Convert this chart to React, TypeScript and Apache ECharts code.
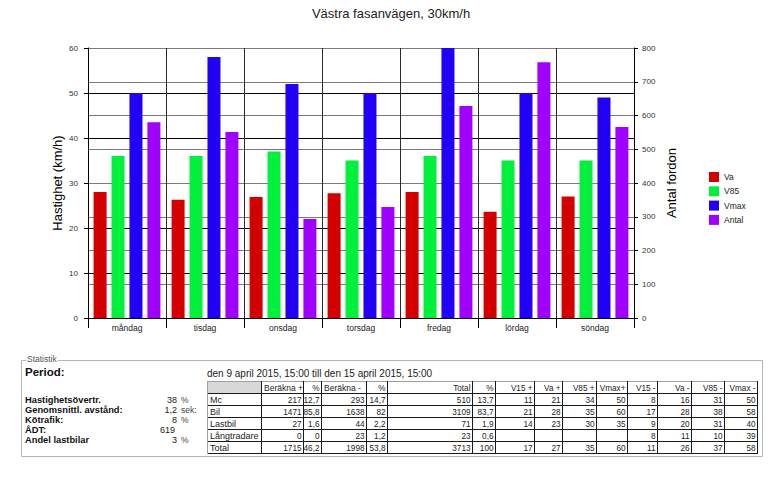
import React, { useEffect, useRef } from "react";
import * as echarts from "echarts";

// ---------- data ----------
const days = ["måndag", "tisdag", "onsdag", "torsdag", "fredag", "lördag", "söndag"];
const va = [28, 26.3, 26.9, 27.7, 28, 23.6, 27];
const v85 = [36, 36, 37, 35, 36, 35, 35];
const vmax = [50, 58, 52, 50, 60, 50, 49];
const antal = [580, 551, 293, 329, 628, 758, 566];

const seriesNames = ["Va", "V85", "Vmax", "Antal"];
const titleText = "Västra fasanvägen, 30km/h";
const leftAxisName = "Hastighet (km/h)";
const rightAxisName = "Antal fordon";

const statLabels = ["Hastighetsövertr.", "Genomsnittl. avstånd:", "Kötrafik:", "ÅDT:", "Andel lastbilar"];
const statValues = ["38", "1,2", "8", "619", "3"];
const statUnits = ["%", "sek:", "%", "", "%"];
const periodText = "den 9 april 2015, 15:00 till den 15 april 2015, 15:00";

const tableHeader = ["", "Beräkna +", "%", "Beräkna -", "%", "Total", "%", "V15 +", "Va +", "V85 +", "Vmax+", "V15 -", "Va -", "V85 -", "Vmax -"];
const tableRows = [
  ["Mc", "217", "12,7", "293", "14,7", "510", "13,7", "11", "21", "34", "50", "8", "16", "31", "50"],
  ["Bil", "1471", "85,8", "1638", "82", "3109", "83,7", "21", "28", "35", "60", "17", "28", "38", "58"],
  ["Lastbil", "27", "1,6", "44", "2,2", "71", "1,9", "14", "23", "30", "35", "9", "20", "31", "40"],
  ["Långtradare", "0", "0", "23", "1,2", "23", "0,6", "", "", "", "", "8", "11", "10", "39"],
  ["Total", "1715", "46,2", "1998", "53,8", "3713", "100", "17", "27", "35", "60", "11", "26", "37", "58"],
];

// ---------- layout / style ----------
const FONT = '"Liberation Sans", Arial, Helvetica, sans-serif';
const colors = ["#d40000", "#00f03c", "#2200f5", "#9f00ff"];
const colX = [207, 261, 303, 321, 366, 387, 472, 495, 534, 562, 596, 627, 657, 691, 724, 757];
const leftAlignedHeaders = [1, 3];
const tableTop = 381;
const rowH = 12;

function txt(text: string, x: number, y: number, size: number, opts: any = {}) {
  return {
    type: "text",
    x,
    y,
    silent: true,
    style: {
      text,
      font: `${opts.bold ? "bold " : ""}${size}px ${FONT}`,
      fill: opts.fill || "#111",
      align: opts.align || "left",
      verticalAlign: "middle",
      textAlign: opts.align || "left",
      textVerticalAlign: "middle",
      backgroundColor: opts.bg,
      padding: opts.bg ? [0, 1] : undefined,
    },
  };
}

function buildGraphic() {
  const g: any[] = [];
  // group box
  g.push({
    type: "rect",
    silent: true,
    shape: { x: 21.5, y: 360.5, width: 741, height: 96 },
    style: { fill: "none", stroke: "#b4b4b4", lineWidth: 1 },
  });
  g.push(txt("Statistik", 26, 359, 8.5, { fill: "#555", bg: "#ffffff" }));
  g.push(txt("Period:", 25, 372, 11.5, { bold: true }));
  g.push(txt(periodText, 207, 373, 10, { fill: "#222" }));

  // left statistics
  statLabels.forEach((lab, i) => {
    const y = 400 + i * 10;
    g.push(txt(lab, 25, y, 9.3, { bold: true }));
    g.push(txt(statValues[i], statUnits[i] === "" ? 175 : 177, y, 9, { align: "right", fill: "#222" }));
    if (statUnits[i]) g.push(txt(statUnits[i], 181, y, 8.5, { fill: "#444" }));
  });

  // table corner cell
  g.push({
    type: "rect",
    silent: true,
    shape: { x: colX[0], y: tableTop, width: colX[1] - colX[0], height: rowH },
    style: { fill: "#d8d8d8" },
  });
  const allRows = [tableHeader, ...tableRows];
  const bottom = tableTop + rowH * allRows.length;
  // grid lines
  for (let r = 0; r <= allRows.length; r++) {
    const y = tableTop + r * rowH + 0.5;
    g.push({
      type: "line",
      silent: true,
      shape: { x1: colX[0], y1: y, x2: colX[colX.length - 1] + 1, y2: y },
      style: { stroke: r === 0 ? "#a0a0a0" : "#1a1a1a", lineWidth: 1 },
    });
  }
  colX.forEach((x, c) => {
    g.push({
      type: "line",
      silent: true,
      shape: { x1: x + 0.5, y1: tableTop, x2: x + 0.5, y2: bottom + 1 },
      style: { stroke: c === 0 ? "#a0a0a0" : "#1a1a1a", lineWidth: 1 },
    });
  });
  // cell texts
  allRows.forEach((row, r) => {
    const y = tableTop + r * rowH + 7;
    row.forEach((cell, c) => {
      if (!cell) return;
      if (c === 0) g.push(txt(cell, colX[0] + 3, y, 9, { fill: "#222" }));
      else if (r === 0 && leftAlignedHeaders.includes(c)) g.push(txt(cell, colX[c] + 3, y, 8.5, { fill: "#222" }));
      else g.push(txt(cell, colX[c + 1] - 1.5, y, 8.2, { align: "right", fill: "#222" }));
    });
  });
  return g;
}

export default function App() {
  const ref = useRef<HTMLDivElement>(null);
  useEffect(() => {
    if (!ref.current) return;
    const chart = echarts.init(ref.current, undefined, { renderer: "svg" });
    const barBase = { type: "bar", barWidth: 13, barGap: "38%" };
    const option: any = {
      animation: false,
      textStyle: { fontFamily: FONT },
      title: {
        text: titleText,
        left: "center",
        top: 7,
        padding: 0,
        textStyle: { fontSize: 13, fontWeight: "normal", color: "#222", fontFamily: FONT },
      },
      legend: {
        orient: "vertical",
        left: 709,
        top: 172,
        padding: 0,
        itemWidth: 10,
        itemHeight: 10,
        itemGap: 4.3,
        icon: "rect",
        data: seriesNames,
        textStyle: { fontSize: 8.5, color: "#222", fontFamily: FONT },
      },
      grid: { left: 88, right: 148, top: 48, bottom: 162, containLabel: false, outerBoundsMode: "none" },
      xAxis: {
        type: "category",
        data: days,
        boundaryGap: true,
        axisLine: { lineStyle: { color: "#000" } },
        axisTick: { show: true, length: 10, interval: 0, lineStyle: { color: "#000" } },
        axisLabel: { fontSize: 8.5, color: "#222", margin: 5, interval: 0, fontFamily: FONT },
        splitLine: { show: true, interval: 0, lineStyle: { color: "#2a2a2a" } },
      },
      yAxis: [
        {
          type: "value",
          min: 0,
          max: 60,
          interval: 10,
          position: "left",
          name: leftAxisName,
          nameLocation: "middle",
          nameGap: 24,
          nameMoveOverlap: false,
          nameRotate: 90,
          nameTextStyle: { fontSize: 13, color: "#000", fontFamily: FONT },
          axisLine: { show: true, lineStyle: { color: "#000" } },
          axisTick: { show: true, length: 4, lineStyle: { color: "#000" } },
          axisLabel: { fontSize: 8, color: "#333", margin: 10, fontFamily: FONT },
          splitLine: { show: true, lineStyle: { color: "#000" } },
        },
        {
          type: "value",
          min: 0,
          max: 800,
          interval: 100,
          position: "right",
          name: rightAxisName,
          nameLocation: "middle",
          nameGap: 31,
          nameMoveOverlap: false,
          nameRotate: 90,
          nameTextStyle: { fontSize: 13, color: "#000", fontFamily: FONT },
          axisLine: { show: true, lineStyle: { color: "#000" } },
          axisTick: { show: true, length: 4, lineStyle: { color: "#000" } },
          axisLabel: { fontSize: 8, color: "#333", margin: 8, fontFamily: FONT },
          splitLine: { show: true, lineStyle: { color: "#7a7a7a" } },
        },
      ],
      series: [
        { ...barBase, name: seriesNames[0], data: va, itemStyle: { color: colors[0] }, yAxisIndex: 0 },
        { ...barBase, name: seriesNames[1], data: v85, itemStyle: { color: colors[1] }, yAxisIndex: 0 },
        { ...barBase, name: seriesNames[2], data: vmax, itemStyle: { color: colors[2] }, yAxisIndex: 0 },
        { ...barBase, name: seriesNames[3], data: antal, itemStyle: { color: colors[3] }, yAxisIndex: 1 },
      ],
      graphic: { elements: buildGraphic() },
    };
    chart.setOption(option);
    return () => chart.dispose();
  }, []);
  return (
    <div
      ref={ref}
      style={{ position: "absolute", left: 0, top: 0, width: 782, height: 480, background: "#fff" }}
    />
  );
}
